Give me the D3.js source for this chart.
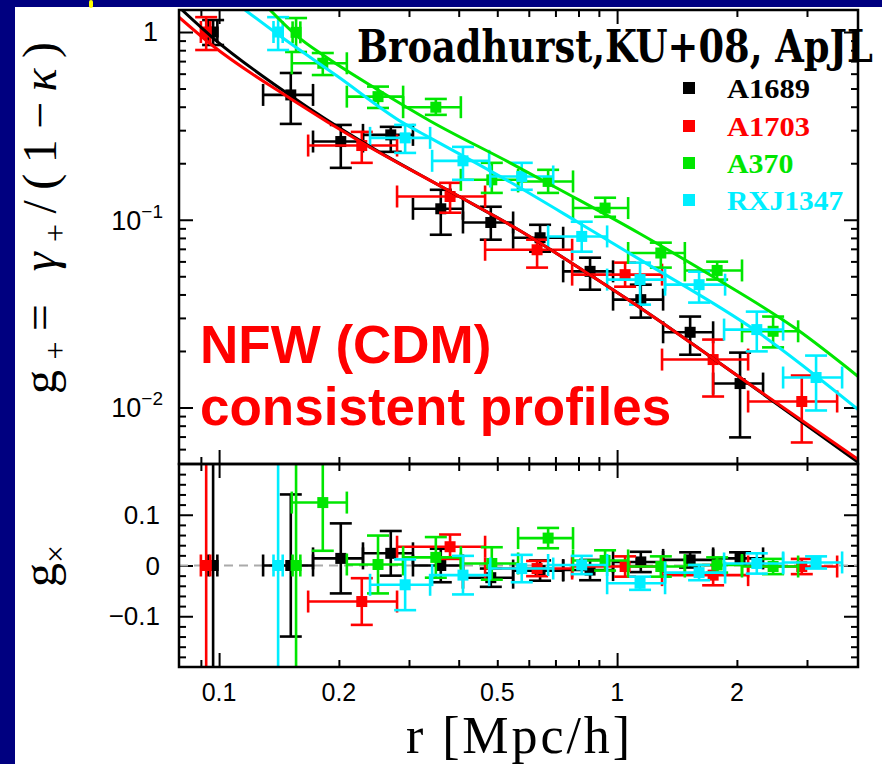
<!DOCTYPE html>
<html><head><meta charset="utf-8">
<script src="https://cdn.jsdelivr.net/npm/d3@7"></script>
<style>html,body{margin:0;padding:0;background:#000080;} svg{display:block;}</style>
</head><body>
<svg id="chart" width="882" height="764"></svg>
<script>
// ---------------- DATA ----------------
const categories = ["A1689", "A1703", "A370", "RXJ1347"];
const tickLabelsX = [0.1, 0.2, 0.5, 1, 2];

// A1689 (black)
const a1689_r   = [0.0966, 0.1514, 0.2022, 0.270, 0.3606, 0.4816, 0.6405, 0.8553, 1.147, 1.526, 2.037];
const a1689_rLo = [0.094, 0.129, 0.1722, 0.2299, 0.307, 0.410, 0.548, 0.732, 0.977, 1.305, 1.743];
const a1689_rHi = [0.099, 0.1722, 0.2299, 0.307, 0.410, 0.548, 0.732, 0.977, 1.305, 1.743, 2.327];
const a1689_g   = [1.0, 0.4623, 0.261, 0.2832, 0.1144, 0.0967, 0.0802, 0.0531, 0.03754, 0.02515, 0.01341];
const a1689_gLo = [0.853, 0.324, 0.189, 0.230, 0.0832, 0.0783, 0.0676, 0.0424, 0.0301, 0.0191, 0.00693];
const a1689_gHi = [1.158, 0.605, 0.320, 0.3125, 0.1444, 0.1173, 0.094, 0.0628, 0.0451, 0.0305, 0.0196];
const a1689_gx  = [0, 0, 0.014, 0.024, 0.0, -0.024, -0.01, -0.009, 0.007, 0.011, 0.014];
const a1689_gxE = [0.5, 0.14, 0.069, 0.044, 0.033, 0.018, 0.02, 0.02, 0.02, 0.015, 0.012];

// A1703 (red)
const a1703_r   = [0.0928, 0.2283, 0.3805, 0.6295, 1.0474, 1.743, 2.911];
const a1703_rLo = [0.090, 0.1674, 0.280, 0.466, 0.771, 1.297, 2.134];
const a1703_rHi = [0.095, 0.280, 0.466, 0.771, 1.297, 2.134, 3.572];
const a1703_g   = [1.0, 0.2485, 0.133, 0.0692, 0.0510, 0.018, 0.01076];
const a1703_gLo = [0.802, 0.201, 0.109, 0.0556, 0.044, 0.01144, 0.00651];
const a1703_gHi = [1.20, 0.2938, 0.1573, 0.0783, 0.0591, 0.023, 0.0148];
const a1703_gx  = [0, -0.071, 0.037, -0.006, -0.002, -0.019, -0.002];
const a1703_gxE = [0.5, 0.046, 0.024, 0.015, 0.02, 0.02, 0.015];

// A370 (green)
const a370_r   = [0.1561, 0.1822, 0.2508, 0.3504, 0.4844, 0.671, 0.9329, 1.288, 1.784, 2.466];
const a370_rLo = [0.153, 0.1523, 0.2094, 0.290, 0.405, 0.564, 0.775, 1.066, 1.48, 2.06];
const a370_rHi = [0.160, 0.2094, 0.290, 0.405, 0.564, 0.775, 1.066, 1.48, 2.06, 2.85];
const a370_g   = [0.996, 0.6815, 0.4527, 0.3977, 0.1632, 0.16, 0.1154, 0.0665, 0.0537, 0.02546];
const a370_gLo = [0.783, 0.590, 0.394, 0.362, 0.139, 0.139, 0.1037, 0.0556, 0.048, 0.0209];
const a370_gHi = [1.187, 0.773, 0.512, 0.44, 0.201, 0.1845, 0.131, 0.0755, 0.0598, 0.0305];
const a370_gx  = [0, 0.124, 0.002, 0.016, 0.004, 0.054, 0.01, -0.002, 0.001, -0.002];
const a370_gxE = [0.5, 0.095, 0.057, 0.04, 0.032, 0.02, 0.02, 0.02, 0.015, 0.015];

// RXJ1347 (cyan)
const rxj_r   = [0.1407, 0.2934, 0.410, 0.576, 0.815, 1.142, 1.607, 2.244, 3.162];
const rxj_rLo = [0.137, 0.2395, 0.343, 0.48, 0.671, 0.944, 1.32, 1.857, 2.613];
const rxj_rHi = [0.1445, 0.339, 0.477, 0.691, 0.944, 1.32, 1.868, 2.613, 3.676];
const rxj_g   = [1.0, 0.273, 0.206, 0.17, 0.0815, 0.048, 0.0451, 0.026, 0.01444];
const rxj_gLo = [0.802, 0.227, 0.1632, 0.1444, 0.0676, 0.0353, 0.0362, 0.0199, 0.00964];
const rxj_gHi = [1.20, 0.32, 0.2444, 0.201, 0.0976, 0.0591, 0.0529, 0.0324, 0.0189];
const rxj_gx  = [0, -0.038, -0.019, -0.006, 0.001, -0.035, -0.014, 0.004, 0.006];
const rxj_gxE = [0.5, 0.05, 0.038, 0.027, 0.018, 0.013, 0.015, 0.02, 0.012];

// NFW best-fit curves: [r, g+]
const nfw_a1689 = [[0.0807,1.31],[0.0966,0.929],[0.1516,0.4566],[0.2287,0.260],[0.374,0.1444],[0.5706,0.0874],[0.891,0.048],[1.162,0.0332],[2.037,0.01444],[4.033,0.0051]];
const nfw_a1703 = [[0.0793,1.20],[0.0966,0.842],[0.1516,0.440],[0.2287,0.257],[0.374,0.1444],[0.5706,0.0874],[0.891,0.048],[1.162,0.0332],[2.037,0.01444],[4.033,0.00529]];
const nfw_a370  = [[0.1343,1.31],[0.157,0.952],[0.1825,0.754],[0.2509,0.491],[0.339,0.336],[0.5385,0.201],[0.775,0.1326],[1.142,0.0842],[1.743,0.0497],[2.834,0.026],[4.033,0.01462]];
const nfw_rxj   = [[0.1162,1.31],[0.1423,0.952],[0.198,0.583],[0.290,0.328],[0.339,0.273],[0.548,0.1554],[0.7934,0.0976],[1.142,0.0613],[2.248,0.02536],[4.033,0.00976]];

// --------------- BUILD ----------------
const colors = ["#000000", "#ff0000", "#00e600", "#00eeff"];
const series = [
  {name: categories[0], color: colors[0], r: a1689_r, rLo: a1689_rLo, rHi: a1689_rHi, g: a1689_g, gLo: a1689_gLo, gHi: a1689_gHi, gx: a1689_gx, gxE: a1689_gxE, nfw: nfw_a1689},
  {name: categories[1], color: colors[1], r: a1703_r, rLo: a1703_rLo, rHi: a1703_rHi, g: a1703_g, gLo: a1703_gLo, gHi: a1703_gHi, gx: a1703_gx, gxE: a1703_gxE, nfw: nfw_a1703},
  {name: categories[2], color: colors[2], r: a370_r, rLo: a370_rLo, rHi: a370_rHi, g: a370_g, gLo: a370_gLo, gHi: a370_gHi, gx: a370_gx, gxE: a370_gxE, nfw: nfw_a370},
  {name: categories[3], color: colors[3], r: rxj_r, rLo: rxj_rLo, rHi: rxj_rHi, g: rxj_g, gLo: rxj_gLo, gHi: rxj_gHi, gx: rxj_gx, gxE: rxj_gxE, nfw: nfw_rxj}
];

const svg = d3.select("#chart");
svg.append("rect").attr("width", 882).attr("height", 764).attr("fill", "#000080");
svg.append("rect").attr("x", 15).attr("y", 7).attr("width", 867).attr("height", 757).attr("fill", "#ffffff");
svg.append("rect").attr("x", 89).attr("y", 0).attr("width", 4).attr("height", 8).attr("rx", 2).attr("fill", "#ffff00");

const L = 179, R = 858, T = 10, M = 464, B = 667;
const x = d3.scaleLog().domain([0.0793, 4.03]).range([L, R]);
const yTop = d3.scaleLog().domain([0.005, 1.31]).range([M, T]);
const yBot = d3.scaleLinear().domain([-0.2, 0.2]).range([B, M]);

const defs = svg.append("defs");
defs.append("clipPath").attr("id", "clipTop").append("rect").attr("x", L).attr("y", T).attr("width", R - L).attr("height", M - T);
defs.append("clipPath").attr("id", "clipBot").append("rect").attr("x", L).attr("y", M).attr("width", R - L).attr("height", B - M);

// ticks
const xMajor = [0.1, 1];
const xMinor = [0.09, 0.2, 0.3, 0.4, 0.5, 0.6, 0.7, 0.8, 0.9, 2, 3];
const yMajor = [1, 0.1, 0.01];
const yMinor = [];
[0.01, 0.1].forEach(d => { for (let k = 2; k <= 9; k++) yMinor.push(d * k); });
yMinor.push(0.006, 0.007, 0.008, 0.009);
const ybMajor = [-0.1, 0, 0.1];
const ybMinor = d3.range(-0.18, 0.19, 0.02).filter(v => Math.abs(Math.round(v * 100) % 10) !== 0);

const axesG = svg.append("g").attr("class", "axes");
function addAxis(axisFn, scale, vals, size, transform) {
  const g = axesG.append("g").attr("transform", transform)
    .call(axisFn(scale).tickValues(vals).tickSize(size).tickFormat(""));
  g.select(".domain").remove();
  g.selectAll(".tick line").attr("stroke", "#000").attr("stroke-width", 2);
}
const MAJ = 14, MIN = 7;
addAxis(d3.axisBottom, x, xMajor, MAJ, `translate(0,${T})`);
addAxis(d3.axisBottom, x, xMinor, MIN, `translate(0,${T})`);
addAxis(d3.axisTop, x, xMajor, MAJ, `translate(0,${M})`);
addAxis(d3.axisTop, x, xMinor, MIN, `translate(0,${M})`);
addAxis(d3.axisRight, yTop, yMajor, MAJ, `translate(${L},0)`);
addAxis(d3.axisRight, yTop, yMinor, MIN, `translate(${L},0)`);
addAxis(d3.axisLeft, yTop, yMajor, MAJ, `translate(${R},0)`);
addAxis(d3.axisLeft, yTop, yMinor, MIN, `translate(${R},0)`);
addAxis(d3.axisBottom, x, xMajor, MAJ, `translate(0,${M})`);
addAxis(d3.axisBottom, x, xMinor, MIN, `translate(0,${M})`);
addAxis(d3.axisTop, x, xMajor, MAJ, `translate(0,${B})`);
addAxis(d3.axisTop, x, xMinor, MIN, `translate(0,${B})`);
addAxis(d3.axisRight, yBot, ybMajor, MAJ, `translate(${L},0)`);
addAxis(d3.axisRight, yBot, ybMinor, MIN, `translate(${L},0)`);
addAxis(d3.axisLeft, yBot, ybMajor, MAJ, `translate(${R},0)`);
addAxis(d3.axisLeft, yBot, ybMinor, MIN, `translate(${R},0)`);

// zero dashed line
svg.append("line").attr("x1", L).attr("x2", R).attr("y1", yBot(0)).attr("y2", yBot(0))
  .attr("stroke", "#aaaaaa").attr("stroke-width", 2).attr("stroke-dasharray", "9,6");

// ---- data marks ----
const CAP = 11, SQ = 11, LW = 2.6;
const topG = svg.append("g").attr("clip-path", "url(#clipTop)");
const botG = svg.append("g").attr("clip-path", "url(#clipBot)");

function drawErr(g, s, yScale, yv, ylo, yhi) {
  const gg = g.append("g").attr("stroke", s.color).attr("stroke-width", LW).attr("fill", "none");
  s.r.forEach((rv, i) => {
    const cx = x(rv), cy = yScale(yv[i]);
    const x1 = x(s.rLo[i]), x2 = x(s.rHi[i]);
    const y1 = yScale(ylo[i]), y2 = yScale(yhi[i]);
    gg.append("line").attr("x1", x1).attr("x2", x2).attr("y1", cy).attr("y2", cy);
    gg.append("line").attr("x1", x1).attr("x2", x1).attr("y1", cy - CAP).attr("y2", cy + CAP);
    gg.append("line").attr("x1", x2).attr("x2", x2).attr("y1", cy - CAP).attr("y2", cy + CAP);
    gg.append("line").attr("x1", cx).attr("x2", cx).attr("y1", y1).attr("y2", y2);
    gg.append("line").attr("x1", cx - CAP).attr("x2", cx + CAP).attr("y1", y1).attr("y2", y1);
    gg.append("line").attr("x1", cx - CAP).attr("x2", cx + CAP).attr("y1", y2).attr("y2", y2);
  });
  g.append("g").selectAll("rect").data(s.r).join("rect")
    .attr("x", (d) => x(d) - SQ / 2).attr("y", (d, i) => yScale(yv[i]) - SQ / 2)
    .attr("width", SQ).attr("height", SQ).attr("fill", s.color);
}

series.forEach(s => {
  drawErr(topG, s, yTop, s.g, s.gLo, s.gHi);
  const lo = s.gx.map((v, i) => v - s.gxE[i]);
  const hi = s.gx.map((v, i) => v + s.gxE[i]);
  drawErr(botG, s, yBot, s.gx, lo, hi);
});

const line = d3.line().x(d => x(d[0])).y(d => yTop(d[1])).curve(d3.curveMonotoneX);
series.forEach(s => {
  topG.append("path").datum(s.nfw).attr("d", line).attr("fill", "none")
    .attr("stroke", s.color).attr("stroke-width", 3);
});

// frames
svg.append("rect").attr("x", L).attr("y", T).attr("width", R - L).attr("height", M - T)
  .attr("fill", "none").attr("stroke", "#000").attr("stroke-width", 2.5);
svg.append("rect").attr("x", L).attr("y", M).attr("width", R - L).attr("height", B - M)
  .attr("fill", "none").attr("stroke", "#000").attr("stroke-width", 2.5);

// ---- tick labels ----
const labFont = "'Liberation Sans', Arial, sans-serif";
const serif = "'Liberation Serif', 'Times New Roman', serif";
svg.append("g").selectAll("text").data(tickLabelsX).join("text")
  .attr("x", d => x(d)).attr("y", 701).attr("text-anchor", "middle")
  .attr("font-family", labFont).attr("font-size", 25).attr("fill", "#000")
  .text(d => String(d));

const yl = svg.append("g").attr("font-family", labFont).attr("fill", "#000");
yl.append("text").attr("x", 158).attr("y", yTop(1) + 9).attr("text-anchor", "end").attr("font-size", 27).text("1");
[[0.1, "\u22121"], [0.01, "\u22122"]].forEach(([v, e]) => {
  const t = yl.append("text").attr("x", 163).attr("y", yTop(v) + 10).attr("text-anchor", "end").attr("font-size", 27);
  t.append("tspan").text("10");
  t.append("tspan").attr("font-size", 19).attr("dy", -12).text(e);
});
[[0.1, "0.1"], [0, "0"], [-0.1, "\u22120.1"]].forEach(([v, s]) => {
  yl.append("text").attr("x", 160).attr("y", yBot(v) + 9).attr("text-anchor", "end").attr("font-size", 26).text(s);
});

// axis titles
svg.append("text").attr("x", 518).attr("y", 753).attr("text-anchor", "middle")
  .attr("font-family", serif).attr("font-size", 52)
  .attr("textLength", 224).attr("lengthAdjust", "spacing").text("r [Mpc/h]");

const ylab = svg.append("text").attr("transform", "translate(56,218) rotate(-90)")
  .attr("text-anchor", "middle").attr("font-family", serif).attr("font-size", 48)
  .attr("textLength", 352).attr("lengthAdjust", "spacing").attr("fill", "#000");
ylab.append("tspan").text("g");
ylab.append("tspan").attr("font-size", 32).attr("dy", 10).text("+");
ylab.append("tspan").attr("dy", -10).text("= ");
ylab.append("tspan").attr("font-style", "italic").text("\u03b3");
ylab.append("tspan").attr("font-size", 32).attr("dy", 10).text("+");
ylab.append("tspan").attr("dy", -10).text("/(1\u2212");
ylab.append("tspan").attr("font-style", "italic").text("\u03ba");
ylab.append("tspan").text(")");

const ylab2 = svg.append("text").attr("transform", "translate(56,566) rotate(-90)")
  .attr("text-anchor", "middle").attr("font-family", serif).attr("font-size", 48).attr("fill", "#000");
ylab2.append("tspan").text("g");
ylab2.append("tspan").attr("font-size", 32).attr("dy", 10).text("\u00d7");

// legend
const lg = svg.append("g");
const legY = [88, 126, 163, 200];
series.forEach((s, i) => {
  lg.append("rect").attr("x", 683).attr("y", legY[i] - 6).attr("width", 12).attr("height", 12).attr("fill", s.color);
  lg.append("text").attr("x", 727).attr("y", legY[i] + 10)
    .attr("font-family", serif).attr("font-weight", "bold")
    .attr("font-size", 28).attr("fill", s.color)
    .attr("textLength", 16.6 * s.name.length).attr("lengthAdjust", "spacingAndGlyphs")
    .text(s.name);
});

// title: measured then horizontally scaled so it spans the same width as in the reference
const titleW = 516;
const title = svg.append("text").attr("x", 0).attr("y", 0)
  .attr("font-family", "'DejaVu Serif Condensed', 'DejaVu Serif', serif").attr("font-weight", "bold")
  .attr("font-size", 44).attr("fill", "#000").text("Broadhurst,KU+08, ApJL");
const natW = title.node().getComputedTextLength();
title.attr("transform", `translate(357,62) scale(${titleW / natW},1)`);

// NFW annotation
const ann = svg.append("g").attr("font-family", labFont).attr("font-weight", "bold").attr("font-size", 53).attr("fill", "#ff0000");
ann.append("text").attr("x", 200).attr("y", 363).text("NFW (CDM)");
ann.append("text").attr("x", 200).attr("y", 425).text("consistent profiles");
</script>
</body></html>
